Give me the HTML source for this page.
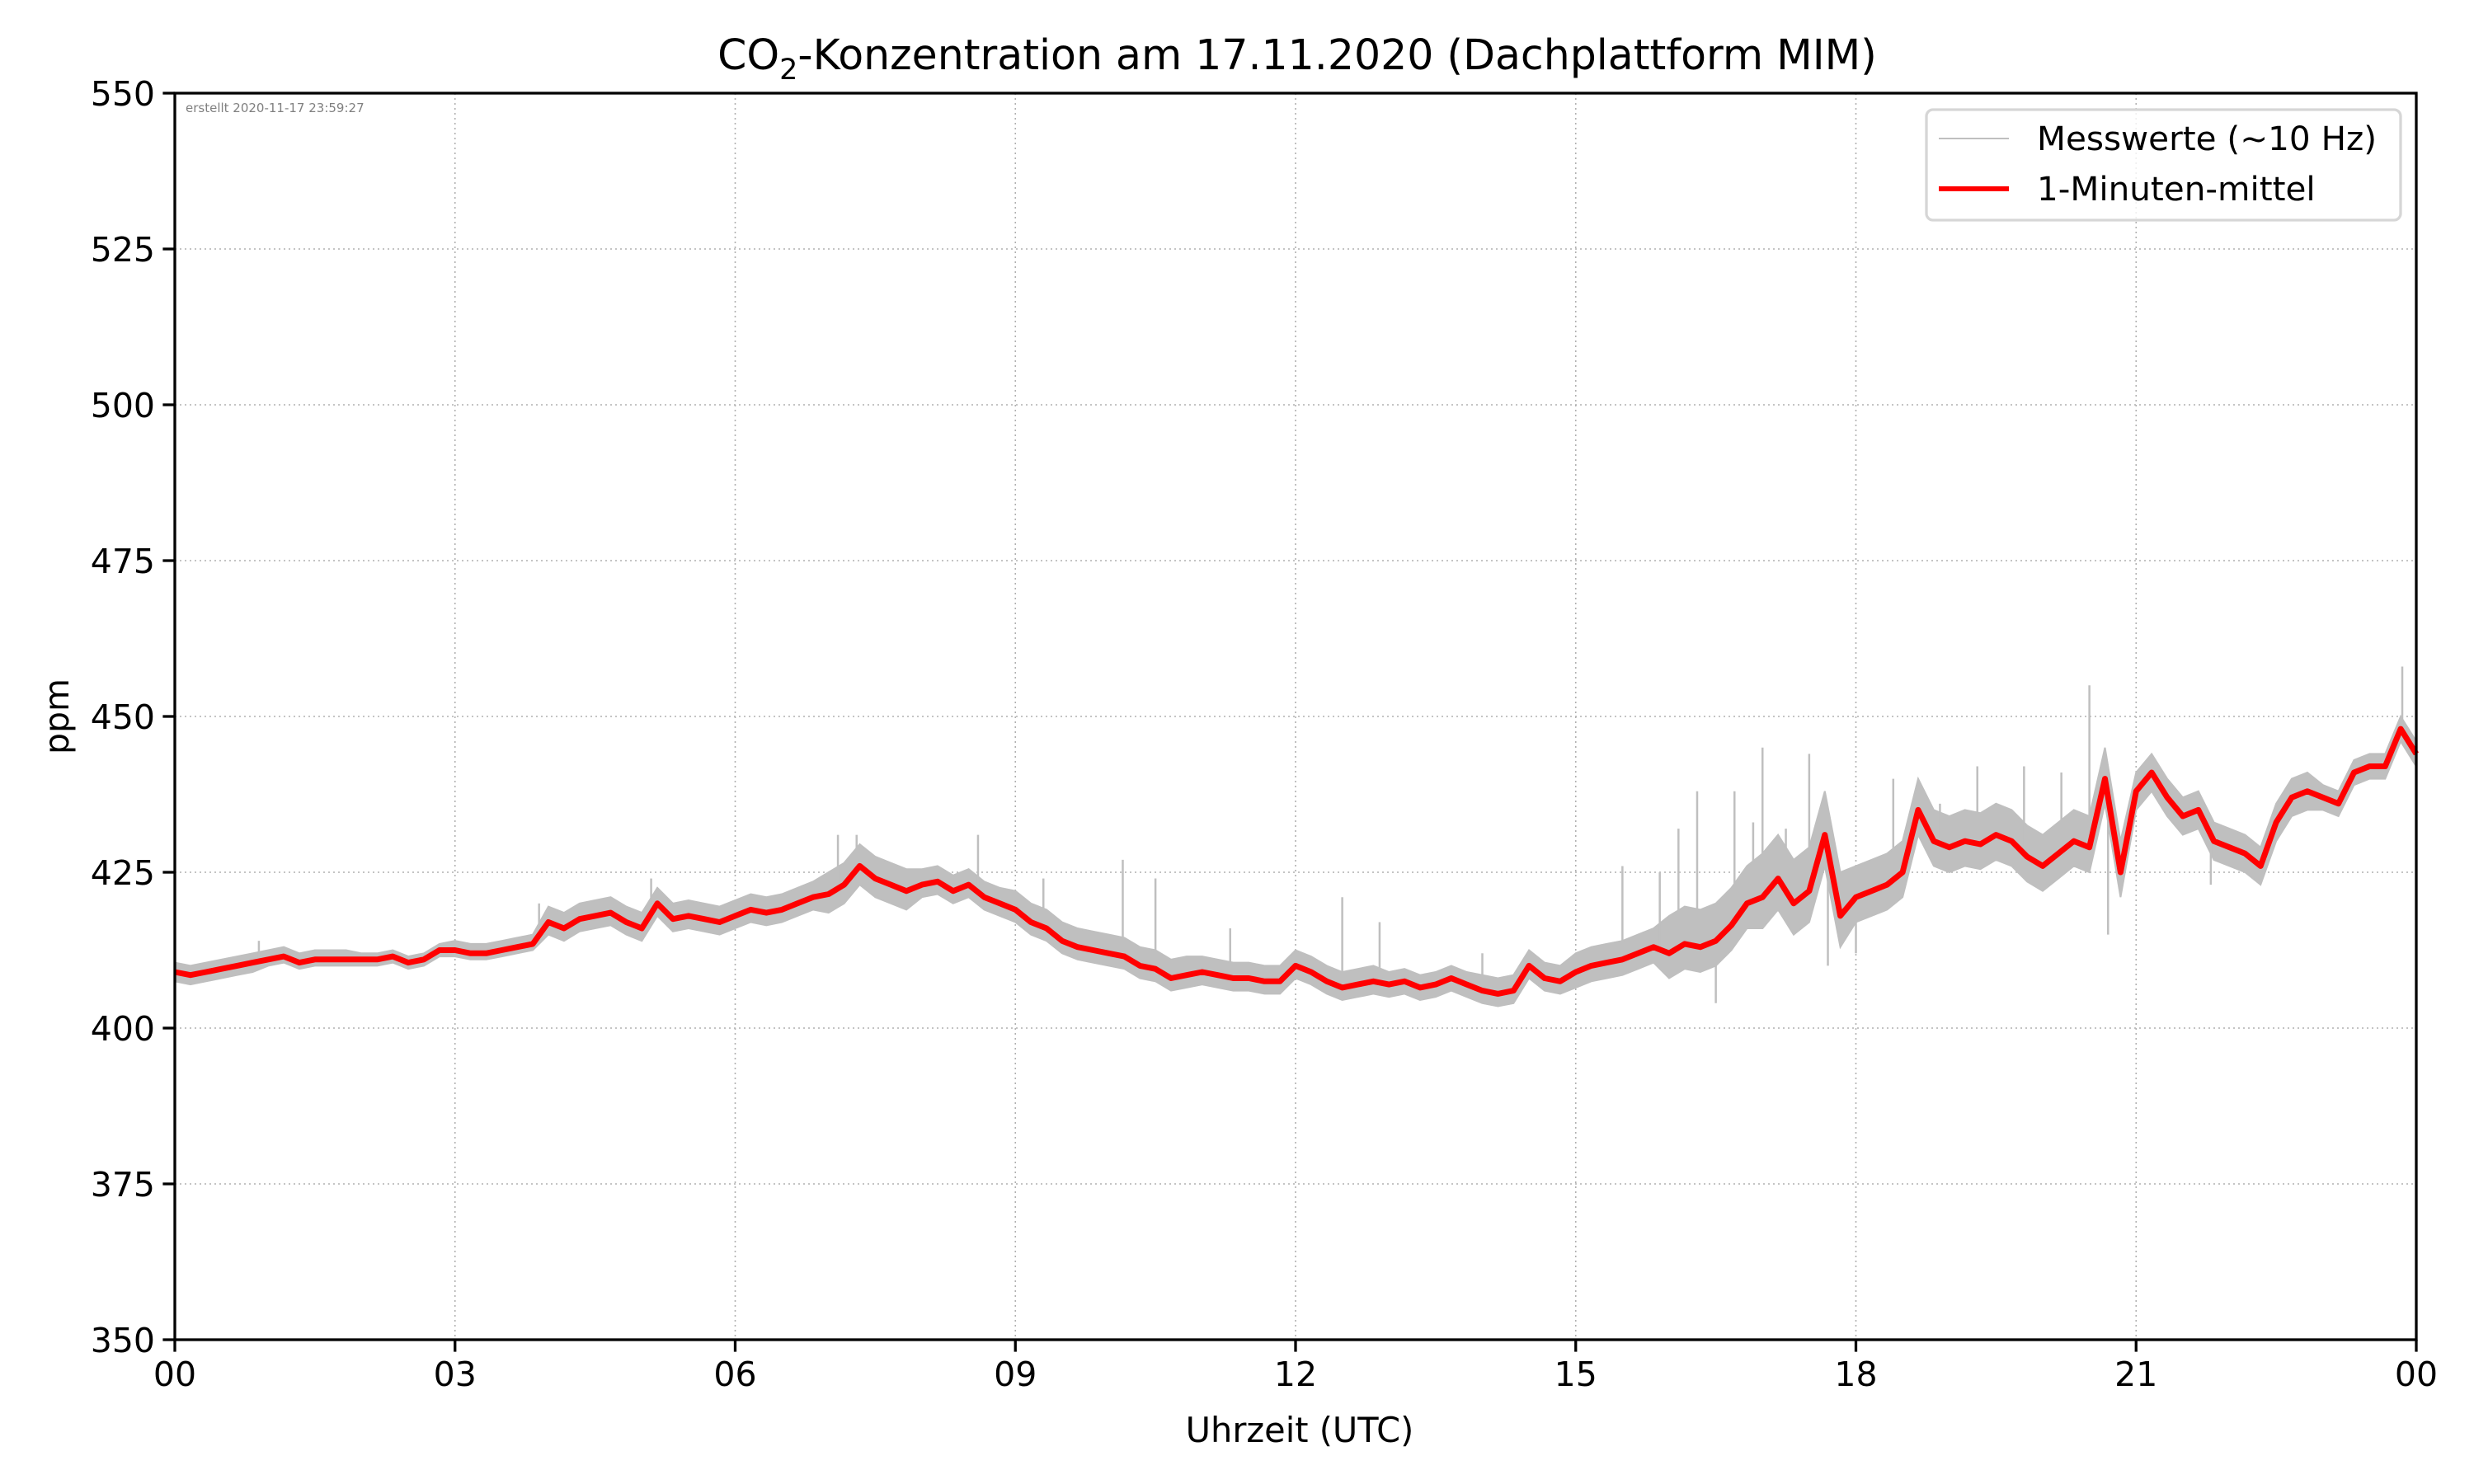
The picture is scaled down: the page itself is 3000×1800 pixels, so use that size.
<!DOCTYPE html>
<html><head><meta charset="utf-8"><style>
html,body{margin:0;padding:0;background:#fff;}
svg{display:block;font-family:"DejaVu Sans","Liberation Sans",sans-serif;}
</style></head><body>
<svg id="chart" width="3000" height="1800" viewBox="0 0 3000 1800">
<rect x="0" y="0" width="3000" height="1800" fill="#fff"/>
<text x="1573" y="84" text-anchor="middle" font-size="50.5">CO<tspan font-size="35" dy="12">2</tspan><tspan dy="-12">-Konzentration am 17.11.2020 (Dachplattform MIM)</tspan></text>
<g id="grid"></g>
<g id="gray"></g>
<g id="red"></g>
<g id="axes"></g>
<text x="225" y="136" font-size="15" fill="#808080">erstellt 2020-11-17 23:59:27</text>
<text x="1576" y="1749" text-anchor="middle" font-size="41.5">Uhrzeit (UTC)</text>
<text transform="translate(83,869) rotate(-90)" text-anchor="middle" font-size="41">ppm</text>
<g>
<rect x="2336" y="133" width="575" height="134" rx="8" fill="#fff" fill-opacity="0.8" stroke="#d6d6d6" stroke-width="3.3"/>
<line x1="2351" y1="168" x2="2436" y2="168" stroke="#bfbfbf" stroke-width="2"/>
<text x="2470" y="182" font-size="40.5">Messwerte (~10 Hz)</text>
<line x1="2351" y1="229" x2="2436" y2="229" stroke="#ff0000" stroke-width="6"/>
<text x="2470" y="243" font-size="40.5">1-Minuten-mittel</text>
</g>
</svg>
<script>
const yTicks=[350,375,400,425,450,475,500,525,550];
const xTickHours=[0,3,6,9,12,15,18,21,24];
const xTickLabels=["00","03","06","09","12","15","18","21","00"];
// 1-minute mean, sampled every 10 minutes from 00:00 to 24:00
const meanValues=[
409,408.5,409,409.5,410,410.5,
411,411.5,410.5,411,411,411,
411,411,411.5,410.5,411,412.5,
412.5,412,412,412.5,413,413.5,
417,416,417.5,418,418.5,417,
416,420,417.5,418,417.5,417,
418,419,418.5,419,420,421,
421.5,423,426,424,423,422,
423,423.5,422,423,421,420,
419,417,416,414,413,412.5,
412,411.5,410,409.5,408,408.5,
409,408.5,408,408,407.5,407.5,
410,409,407.5,406.5,407,407.5,
407,407.5,406.5,407,408,407,
406,405.5,406,410,408,407.5,
409,410,410.5,411,412,413,
412,413.5,413,414,416.5,420,
421,424,420,422,431,418,
421,422,423,425,435,430,
429,430,429.5,431,430,427.5,
426,428,430,429,440,425,
438,441,437,434,435,430,
429,428,426,433,437,438,
437,436,441,442,442,448,
444];
// raw-data spread above / below the mean, per hour (ppm)
const spreadUp=[1.5,1.5,1,1.5,2.5,2.5,2.5,3.5,2.5,3,3,2.5,2.5,2,2.5,3,6,7,5,5,5,3,3,2,2];
const spreadDown=[1.5,1,1,1,2,2,2,3,2,2,2,2,2,2,2,2.5,4,5,4,4,4,3,3,2,2];
// individual raw-data spikes: hour, ppm
const spikeHours=[0.9,3.9,5.1,7.1,7.3,8.6,9.3,10.15,10.5,11.3,12.5,12.9,14.0,15.5,15.9,16.1,16.3,16.5,16.7,16.9,17.0,17.25,17.5,17.7,18.0,18.4,18.9,19.3,19.8,20.2,20.5,20.7,21.8,22.6,23.85];
const spikeValues=[414,420,424,431,431,431,424,427,424,416,421,417,412,426,425,432,438,404,438,433,445,432,444,410,412,440,436,442,442,441,455,415,423,434,458];

const X0=212,X1=2930,Y0=1625,Y1=113;
const xs=h=>X0+(h/24)*(X1-X0);
const ys=v=>Y0-(v-350)/200*(Y0-Y1);
const NS="http://www.w3.org/2000/svg";
function mk(tag,attrs,parent){const e=document.createElementNS(NS,tag);for(const k in attrs)e.setAttribute(k,attrs[k]);parent.appendChild(e);return e;}
const grid=document.getElementById('grid'),axes=document.getElementById('axes');
const gray=document.getElementById('gray'),red=document.getElementById('red');

yTicks.forEach(v=>{
  const y=ys(v);
  const gl=mk('line',{x1:X0,x2:X1,y1:y,y2:y,stroke:'#b0b0b0','stroke-width':1.6,'stroke-dasharray':'2,4'},grid);
  
  
  const t=mk('line',{x1:X0-14.6,x2:X0,y1:y,y2:y,stroke:'#000','stroke-width':3.3},axes);
  
  
  const l=mk('text',{x:X0-24,y:y+15,'text-anchor':'end','font-size':41},axes);
  l.textContent=v;
  
  
});
xTickHours.forEach((h,i)=>{
  const x=xs(h);
  const gl=mk('line',{x1:x,x2:x,y1:Y1,y2:Y0,stroke:'#b0b0b0','stroke-width':1.6,'stroke-dasharray':'2,4'},grid);
  
  
  const t=mk('line',{x1:x,x2:x,y1:Y0,y2:Y0+14.6,stroke:'#000','stroke-width':3.3},axes);
  
  
  const l=mk('text',{x:x,y:Y0+56,'text-anchor':'middle','font-size':41},axes);
  l.textContent=xTickLabels[i];
  
  
});
const frame=mk('rect',{x:X0,y:Y1,width:X1-X0,height:Y0-Y1,fill:'none',stroke:'#000','stroke-width':3.3},axes);



const n=meanValues.length;
let up=[],dn=[];
for(let i=0;i<n;i++){
  const h=i/6, hi=Math.floor(h);
  up.push(xs(h).toFixed(1)+','+ys(meanValues[i]+spreadUp[hi]).toFixed(1));
  dn.push(xs(h).toFixed(1)+','+ys(meanValues[i]-spreadDown[hi]).toFixed(1));
}
const band=mk('polygon',{points:up.concat(dn.reverse()).join(' '),fill:'#bfbfbf',stroke:'#bfbfbf','stroke-width':2},gray);


spikeHours.forEach((h,i)=>{
  const idx=Math.min(n-1,Math.round(h*6));
  const s=mk('line',{x1:xs(h),x2:xs(h),y1:ys(meanValues[idx]),y2:ys(spikeValues[i]),stroke:'#bfbfbf','stroke-width':2.5},gray);
  
  
});
const pts=meanValues.map((v,i)=>xs(i/6).toFixed(1)+','+ys(v).toFixed(1)).join(' ');
const pl=mk('polyline',{points:pts,fill:'none',stroke:'#ff0000','stroke-width':7,'stroke-linejoin':'round'},red);


</script>
</body></html>
